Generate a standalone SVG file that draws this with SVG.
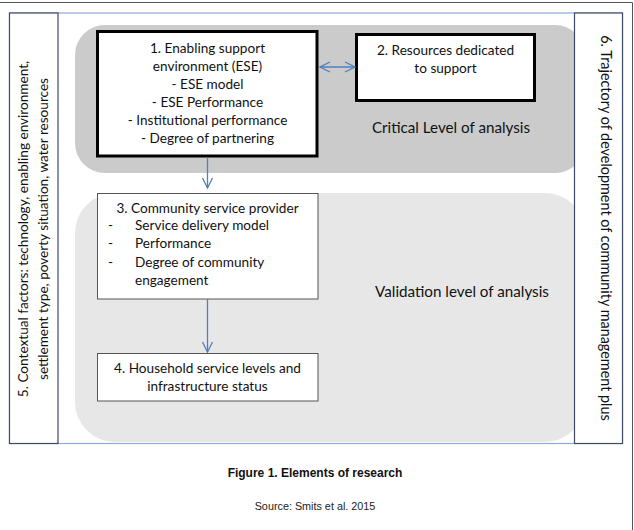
<svg xmlns="http://www.w3.org/2000/svg" width="634" height="530" viewBox="0 0 634 530">
<style>
.t{font-family:Lato,"Noto Sans",sans-serif;font-size:13.6px;fill:#111}
.c{text-anchor:middle}
.big{font-size:15.2px}
.side{font-family:Lato,"Noto Sans",sans-serif;font-size:13.6px;fill:#111;text-anchor:middle}
.thick{fill:#fff;stroke:#000;stroke-width:3}
.thin{fill:#fff;stroke:#555;stroke-width:1}
.conn{stroke:#4f81bd;stroke-width:1.3;fill:none}
</style>
<defs>
<marker id="ah" viewBox="0 0 12 12" refX="11" refY="6" markerWidth="12" markerHeight="12" markerUnits="userSpaceOnUse" orient="auto-start-reverse">
<path d="M1,1 L11,6 L1,11" fill="none" stroke="#4f81bd" stroke-width="1.3"/>
</marker>
</defs>
<rect width="634" height="530" fill="#fff"/>
<g id="outer-frame">
<path d="M0,2.5 H632.5 V530" fill="none" stroke="#555" stroke-width="1"/>
<rect x="9.5" y="13" width="613" height="430.5" fill="#fff" stroke="#8eaadb" stroke-width="1.2"/>
</g>
<g id="critical-level">
<rect x="75" y="25" width="510" height="148" rx="30" fill="#cbcbcb"/>
<text class="t big c" x="451" y="133">Critical Level of analysis</text>
</g>
<g id="validation-level">
<rect x="75" y="193" width="510" height="249" rx="40" fill="#e7e7e7"/>
<text class="t big c" x="462" y="297">Validation level of analysis</text>
</g>
<g id="node5">
<rect x="9.5" y="13" width="48.5" height="430.5" fill="#fff" stroke="#3d4a63" stroke-width="1.2"/>
<text class="side" transform="translate(28,229) rotate(-90)">5. Contextual factors: technology, enabling environment,</text>
<text class="side" transform="translate(48,229) rotate(-90)">settlement type, poverty situation, water resources</text>
</g>
<g id="node6">
<rect x="574.5" y="13" width="48" height="430.5" fill="#fff" stroke="#3d4a63" stroke-width="1.2"/>
<text class="side" style="font-size:14.4px" transform="translate(601,228) rotate(90)">6. Trajectory of development of community management plus</text>
</g>
<g id="node1">
<rect class="thick" x="97.5" y="31.5" width="219.5" height="124.5"/>
<text class="t c" x="207.5" y="53">1. Enabling support</text>
<text class="t c" x="207.5" y="71">environment (ESE)</text>
<text class="t c" x="207.5" y="89">- ESE model</text>
<text class="t c" x="207.5" y="107">- ESE Performance</text>
<text class="t c" x="207.5" y="125">- Institutional performance</text>
<text class="t c" x="207.5" y="143">- Degree of partnering</text>
</g>
<g id="node2">
<rect class="thick" x="356.5" y="34.5" width="178" height="66"/>
<text class="t c" x="445.5" y="55">2. Resources dedicated</text>
<text class="t c" x="445.5" y="73">to support</text>
</g>
<g id="node3">
<rect class="thin" x="97.5" y="193.5" width="220.5" height="105.5"/>
<text class="t c" x="207.5" y="212.5">3. Community service provider</text>
<text class="t" x="108" y="230">-</text>
<text class="t" x="135" y="230">Service delivery model</text>
<text class="t" x="108" y="248">-</text>
<text class="t" x="135" y="248">Performance</text>
<text class="t" x="108" y="266.5">-</text>
<text class="t" x="135" y="266.5">Degree of community</text>
<text class="t" x="135" y="284.5">engagement</text>
</g>
<g id="node4">
<rect class="thin" x="97.5" y="353.5" width="220.5" height="47.5"/>
<text class="t c" x="207.5" y="373">4. Household service levels and</text>
<text class="t c" x="207.5" y="391">infrastructure status</text>
</g>
<g id="connectors">
<line class="conn" x1="320" y1="67" x2="355" y2="67" marker-start="url(#ah)" marker-end="url(#ah)"/>
<line class="conn" x1="207.5" y1="157" x2="207.5" y2="188" marker-end="url(#ah)"/>
<line class="conn" x1="207.5" y1="299" x2="207.5" y2="352" marker-end="url(#ah)"/>
</g>
<g id="caption">
<text x="315" y="477" text-anchor="middle" style="font-family:'Liberation Sans',Arial,sans-serif;font-weight:bold;font-size:12px;fill:#111">Figure 1. Elements of research</text>
<text x="315" y="510" text-anchor="middle" style="font-family:'Liberation Sans',Arial,sans-serif;font-size:10.8px;fill:#222">Source: Smits et al. 2015</text>
</g>
</svg>
